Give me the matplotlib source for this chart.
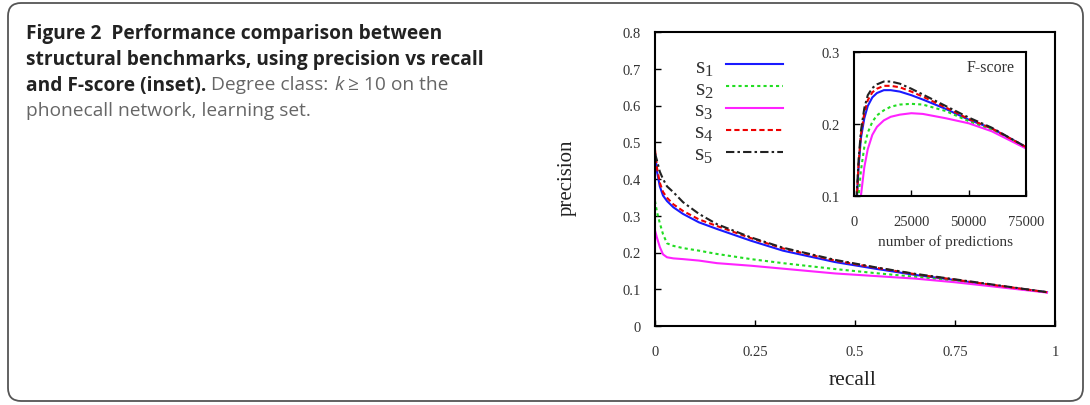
import matplotlib
matplotlib.use("Agg")
import matplotlib.pyplot as plt
from matplotlib.patches import FancyBboxPatch

plt.rcParams['mathtext.fontset'] = 'custom'
plt.rcParams['mathtext.rm'] = 'Liberation Serif'
plt.rcParams['mathtext.it'] = 'Liberation Serif:italic'
plt.rcParams['mathtext.default'] = 'regular'

# ---------------- data ----------------
recall = [0, 0.005, 0.012, 0.02, 0.03, 0.046, 0.07, 0.11, 0.155, 0.24, 0.32,
          0.45, 0.55, 0.65, 0.75, 0.85, 0.98]
prec_s1 = [0.47, 0.42, 0.38, 0.355, 0.34, 0.323, 0.305, 0.282, 0.264, 0.232, 0.205,
           0.174, 0.156, 0.139, 0.125, 0.110, 0.092]
prec_s2 = [0.34, 0.31, 0.28, 0.25, 0.225, 0.218, 0.212, 0.205, 0.196, 0.182, 0.171,
           0.155, 0.144, 0.134, 0.122, 0.109, 0.092]
prec_s3 = [0.26, 0.24, 0.215, 0.195, 0.187, 0.184, 0.182, 0.178, 0.171, 0.164, 0.156,
           0.143, 0.136, 0.129, 0.119, 0.107, 0.091]
prec_s4 = [0.48, 0.43, 0.39, 0.365, 0.349, 0.331, 0.313, 0.290, 0.272, 0.239, 0.211,
           0.178, 0.159, 0.141, 0.126, 0.111, 0.092]
prec_s5 = [0.47, 0.45, 0.42, 0.40, 0.38, 0.364, 0.337, 0.305, 0.277, 0.241, 0.213,
           0.180, 0.160, 0.142, 0.127, 0.112, 0.092]

npred = [0, 1000, 2000, 3000, 4500, 6000, 8000, 10000, 13000, 16000, 20000, 25000,
         30000, 40000, 50000, 60000, 75000]
f_s1 = [0, 0.08, 0.14, 0.18, 0.208, 0.225, 0.237, 0.243, 0.247, 0.247, 0.245, 0.240,
        0.234, 0.221, 0.206, 0.194, 0.168]
f_s2 = [0, 0.05, 0.10, 0.135, 0.168, 0.188, 0.203, 0.212, 0.219, 0.224, 0.227, 0.228,
        0.227, 0.218, 0.204, 0.192, 0.167]
f_s3 = [0, 0.03, 0.07, 0.10, 0.14, 0.165, 0.185, 0.196, 0.205, 0.210, 0.213, 0.215,
        0.214, 0.208, 0.201, 0.190, 0.166]
f_s4 = [0, 0.085, 0.145, 0.185, 0.215, 0.233, 0.244, 0.249, 0.253, 0.253, 0.251, 0.245,
        0.238, 0.223, 0.207, 0.194, 0.168]
f_s5 = [0, 0.09, 0.15, 0.19, 0.222, 0.240, 0.250, 0.255, 0.259, 0.259, 0.256, 0.249,
        0.241, 0.225, 0.209, 0.195, 0.168]

series_labels = ['s$_1$', 's$_2$', 's$_3$', 's$_4$', 's$_5$']
main_xticks = [0, 0.25, 0.5, 0.75, 1]
main_xticklabels = ['0', '0.25', '0.5', '0.75', '1']
main_yticks = [0, 0.1, 0.2, 0.3, 0.4, 0.5, 0.6, 0.7, 0.8]
main_yticklabels = ['0', '0.1', '0.2', '0.3', '0.4', '0.5', '0.6', '0.7', '0.8']
inset_xticks = [0, 25000, 50000, 75000]
inset_yticks = [0.1, 0.2, 0.3]

styles = [
    dict(color='#1a1aff', ls='-'),
    dict(color='#22dd22', ls=(0, (1.5, 1.5))),
    dict(color='#ff22ff', ls='-'),
    dict(color='#ee0000', ls=(0, (2.5, 1.5))),
    dict(color='#222222', ls=(0, (4, 1.5, 1.2, 1.5))),
]

W, H = 1090, 406
fig = plt.figure(figsize=(W / 100, H / 100), dpi=100)

# rounded frame
frame = FancyBboxPatch((8 / W, 4 / H), 1075 / W, 398 / H,
                       boxstyle="round,pad=0,rounding_size=0.012",
                       transform=fig.transFigure, facecolor='none',
                       edgecolor='#555555', linewidth=1.3, mutation_aspect=W / H,
                       zorder=-1)
fig.patches.append(frame)

serif = 'Liberation Serif'
tick_fs = 10.5
tick_c = '#333333'

# ---------------- main axes ----------------
ax = fig.add_axes([655 / W, 1 - 327 / H, 400 / W, 294 / H])
prec = [prec_s1, prec_s2, prec_s3, prec_s4, prec_s5]
for p, st, lab in zip(prec, styles, series_labels):
    ax.plot(recall, p, lw=1.5, label=lab, **st)
ax.set_xlim(0, 1)
ax.set_ylim(0, 0.8)
ax.set_xticks(main_xticks)
ax.set_xticklabels(main_xticklabels, fontfamily=serif, fontsize=tick_fs, color=tick_c)
ax.set_yticks(main_yticks)
ax.set_yticklabels(main_yticklabels, fontfamily=serif, fontsize=tick_fs, color=tick_c)
ax.tick_params(axis='both', direction='in', length=4, width=1)
ax.tick_params(axis='x', pad=14)
ax.tick_params(axis='y', pad=10)
for s in ax.spines.values():
    s.set_linewidth(1.5)

leg = ax.legend(loc='upper left', bbox_to_anchor=(694 / W, 1 - 57 / H),
                bbox_transform=fig.transFigure, frameon=False, markerfirst=False,
                prop={'family': serif, 'size': 17}, handlelength=2.4,
                handletextpad=0.55, labelspacing=0.0, borderaxespad=0, borderpad=0)
for t in leg.get_texts():
    t.set_color('#333333')

fig.text(567 / W, 1 - 178 / H, 'precision', rotation=90, ha='center', va='center',
         fontfamily=serif, fontsize=15, color='#222222')
fig.text(853 / W, 1 - 381 / H, 'recall', ha='center', va='center',
         fontfamily=serif, fontsize=15.5, color='#222222')

# ---------------- inset ----------------
ai = fig.add_axes([854 / W, 1 - 197 / H, 172 / W, 144 / H])
fs = [f_s1, f_s2, f_s3, f_s4, f_s5]
for f, st in zip(fs, styles):
    ai.plot(npred, f, lw=1.5, **st)
ai.set_xlim(0, 75000)
ai.set_ylim(0.1, 0.3)
ai.set_xticks(inset_xticks)
ai.set_xticklabels([str(v) for v in inset_xticks], fontfamily=serif, fontsize=tick_fs,
                   color=tick_c)
ai.set_yticks(inset_yticks)
ai.set_yticklabels([str(v) for v in inset_yticks], fontfamily=serif, fontsize=tick_fs,
                   color=tick_c)
ai.tick_params(axis='both', direction='in', length=4, width=1)
ai.tick_params(axis='x', pad=14)
ai.tick_params(axis='y', pad=10)
for s in ai.spines.values():
    s.set_linewidth(1.5)
ai.text(1015 / W, 1 - 68 / H, 'F-score', transform=fig.transFigure, ha='right',
        va='center', fontfamily=serif, fontsize=11.5, color='#333333')
fig.text(945 / W, 1 - 242 / H, 'number of predictions', ha='center', va='center',
         fontfamily=serif, fontsize=11, color='#333333')

# ---------------- caption ----------------
cap_font = 'Open Sans'
cap_size = 13.8
bold_c = '#222222'
reg_c = '#666666'
x0 = 26 / W
ys = [38.5, 64.5, 90.5, 116.5]
fig.text(x0, 1 - ys[0] / H, 'Figure 2  Performance comparison between', fontfamily=cap_font,
         fontweight='bold', fontsize=cap_size, color=bold_c, va='baseline')
fig.text(x0, 1 - ys[1] / H, 'structural benchmarks, using precision vs recall',
         fontfamily=cap_font, fontweight='bold', fontsize=cap_size, color=bold_c,
         va='baseline')
t3 = fig.text(x0, 1 - ys[2] / H, 'and F-score (inset).', fontfamily=cap_font,
              fontweight='bold', fontsize=cap_size, color=bold_c, va='baseline')
fig.canvas.draw()
r = fig.canvas.get_renderer()
bb = t3.get_window_extent(r)
x1 = (bb.x1 + 5) / W
t4 = fig.text(x1, 1 - ys[2] / H, 'Degree class:', fontfamily=cap_font,
              fontsize=cap_size, color=reg_c, va='baseline')
bb = t4.get_window_extent(r)
t5 = fig.text(bb.x1 / W + 0.005, 1 - ys[2] / H, 'k', fontfamily=cap_font, fontstyle='italic',
              fontsize=cap_size, color=reg_c, va='baseline')
bb = t5.get_window_extent(r)
fig.text(bb.x1 / W + 0.004, 1 - ys[2] / H, '\u2265 10 on the', fontfamily=['Open Sans', 'DejaVu Sans'],
         fontsize=cap_size, color=reg_c, va='baseline')
fig.text(x0, 1 - ys[3] / H, 'phonecall network, learning set.', fontfamily=cap_font,
         fontsize=cap_size, color=reg_c, va='baseline')

fig.savefig('out.png', dpi=100)
